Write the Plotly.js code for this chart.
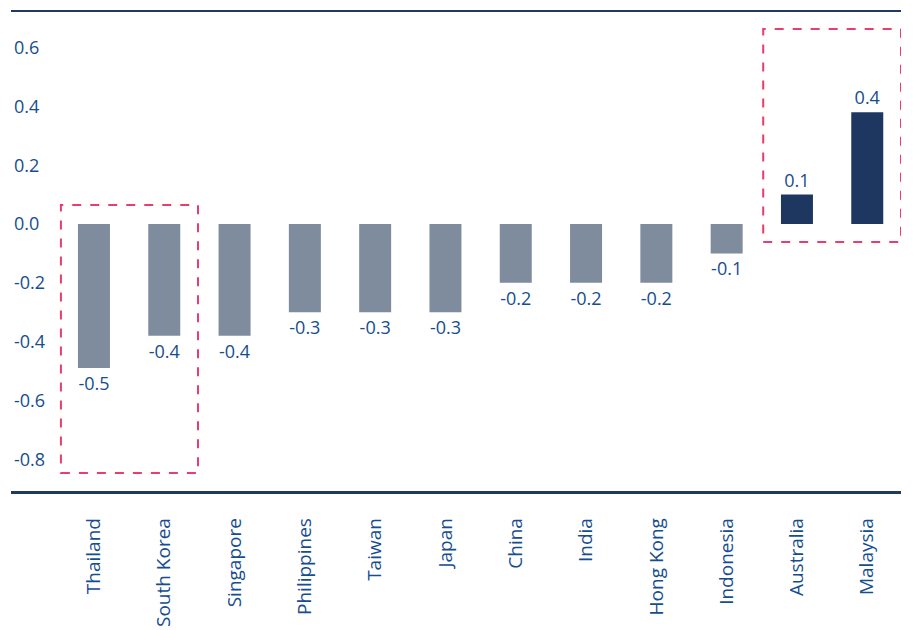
<!DOCTYPE html>
<html>
<head>
<meta charset="utf-8">
<script src="https://cdn.plot.ly/plotly-3.0.1.min.js"></script>
<style>html,body{margin:0;padding:0;background:#fff;}#chart{width:923px;height:630px;}</style>
</head>
<body>
<div id="chart"></div>
<script>
var countries = ["Thailand", "South Korea", "Singapore", "Philippines", "Taiwan", "Japan", "China", "India", "Hong Kong", "Indonesia", "Australia", "Malaysia"];
var values = [-0.49, -0.38, -0.38, -0.30, -0.30, -0.30, -0.20, -0.20, -0.20, -0.10, 0.10, 0.38];
var yTicks = [0.6, 0.4, 0.2, 0.0, -0.2, -0.4, -0.6, -0.8];
var yTickLabels = ["0.6", "0.4", "0.2", "0.0", "-0.2", "-0.4", "-0.6", "-0.8"];

var grey = "#7f8c9e", navy = "#1d3761", textBlue = "#164d8f", pink = "#ea3d6b";
var colors = values.map(function (v) { return v > 0 ? navy : grey; });

var trace = {
  type: "bar",
  x: countries,
  y: values,
  marker: { color: colors },
  texttemplate: "%{y:.1f}",
  textposition: "outside",
  textfont: { family: "Open Sans, sans-serif", size: 18, color: textBlue },
  cliponaxis: false,
  hoverinfo: "none"
};

var layout = {
  width: 923, height: 630,
  margin: { l: 11, r: 22, t: 12, b: 139 },
  paper_bgcolor: "#fff", plot_bgcolor: "#fff",
  showlegend: false,
  bargap: 0.545,
  font: { family: "Open Sans, sans-serif", color: textBlue },
  xaxis: {
    type: "category",
    range: [-1.18, 11.48],
    showline: true, mirror: true, linecolor: "#1f3a60", linewidth: 2.5,
    ticks: "", tickangle: -90, ticklabelstandoff: 17,
    tickfont: { size: 19, color: textBlue },
    showgrid: false, zeroline: false
  },
  yaxis: {
    range: [-0.908, 0.721],
    tickvals: yTicks,
    ticktext: yTickLabels,
    ticklabelposition: "inside",
    ticks: "",
    tickfont: { size: 18, color: textBlue },
    showgrid: false, zeroline: false, showline: false
  },
  shapes: [
    { type: "rect", xref: "x", yref: "y", x0: -0.47, x1: 1.48, y0: -0.847, y1: 0.065,
      line: { color: pink, width: 2, dash: "dash" }, fillcolor: "rgba(0,0,0,0)" },
    { type: "rect", xref: "x", yref: "y", x0: 9.52, x1: 11.48, y0: -0.061, y1: 0.663,
      line: { color: pink, width: 2, dash: "dash" }, fillcolor: "rgba(0,0,0,0)" }
  ]
};

Plotly.newPlot("chart", [trace], layout, { displayModeBar: false, staticPlot: true });
</script>
</body>
</html>
